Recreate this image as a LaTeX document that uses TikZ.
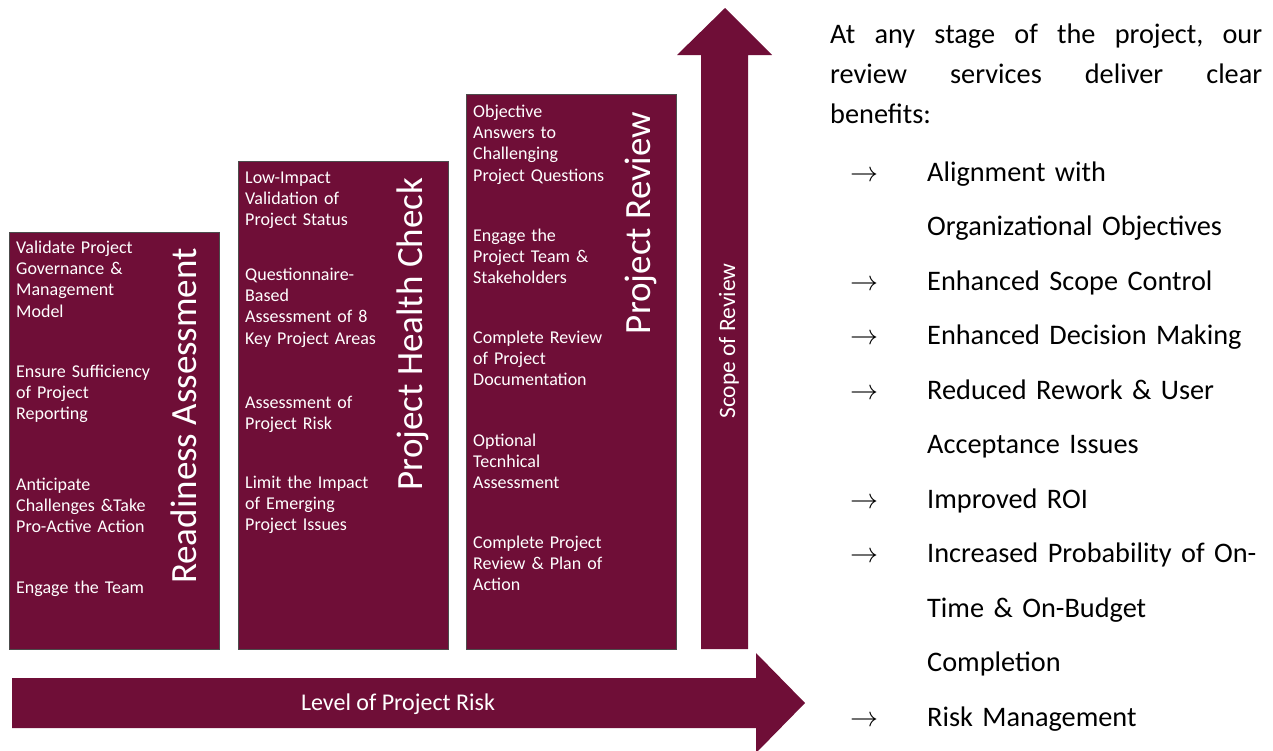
\RequirePackage{fix-cm}
\documentclass[tikz,border=0pt]{standalone}
\usepackage{fontspec}
\setmainfont{Carlito}
\usepackage{tikz}
\usetikzlibrary{positioning}
\definecolor{wine}{RGB}{111,14,55}

\begin{document}
\begin{tikzpicture}[x=1pt,y=-1pt,
	box/.style={rectangle, fill=wine, draw=black!70, line width=0.6pt, anchor=north west, inner sep=0pt, minimum width=210pt},
	item/.style={anchor=base west, inner sep=0pt, text=white, text width=200pt, align=left, font=\fontsize{18}{21.4}\selectfont},
	title/.style={rotate=90, inner sep=0pt, text=white, font=\fontsize{37}{40}\selectfont},
	info/.style={anchor=base west, inner sep=0pt, text width=340pt, align=left, font=\fontsize{28.3}{54.5}\selectfont},
	bul/.style={anchor=base west, inner sep=0pt, font=\fontsize{28}{34}\selectfont}]
	\clip (0,0) rectangle (1273,750);

	% the three stages
	\node (ra) [box, minimum height=417pt] at (9,232) {};
	\node (hc) [box, minimum height=488pt] at (238,161) {};
	\node (pr) [box, minimum height=555pt] at (466,94) {};

	\node (raT) [title] at (184,416) {Readiness Assessment};
	\node (hcT) [title] at (413,334) {Project Health Check};
	\node (prT) [title] at (641,223) {Project Review};

	\node (ra1) [item] at (16,253) {Validate Project\\Governance \&\\Management\\Model};
	\node (ra2) [item] at (16,377) {Ensure Sufficiency\\of Project\\Reporting};
	\node (ra3) [item] at (16,490) {Anticipate\\Challenges \&Take\\Pro-Active Action};
	\node (ra4) [item] at (16,593) {Engage the Team};

	\node (hc1) [item] at (245,183) {Low-Impact\\Validation of\\Project Status};
	\node (hc2) [item] at (245,280) {Questionnaire-\\Based\\Assessment of 8\\Key Project Areas};
	\node (hc3) [item] at (245,408) {Assessment of\\Project Risk};
	\node (hc4) [item] at (245,488) {Limit the Impact\\of Emerging\\Project Issues};

	\node (pr1) [item] at (473,117) {Objective\\Answers to\\Challenging\\Project Questions};
	\node (pr2) [item] at (473,241) {Engage the\\Project Team \&\\Stakeholders};
	\node (pr3) [item] at (473,343) {Complete Review\\of Project\\Documentation};
	\node (pr4) [item] at (473,446) {Optional\\Tecnhical\\Assessment};
	\node (pr5) [item] at (473,548) {Complete Project\\Review \& Plan of\\Action};

	% the two big arrows
	\fill[wine] (701,649) -- (701,55) -- (677,55) -- (725,8) -- (772,55) -- (748,55) -- (748,649) -- cycle;
	\fill[wine] (12,678) -- (756,678) -- (756,653) -- (805,703) -- (756,753) -- (756,728) -- (12,728) -- cycle;
	\node (scope) [title, font=\fontsize{23.5}{26}\selectfont] at (729,341) {Scope of Review};
	\node (risk) [text=white, font=\fontsize{24}{26}\selectfont] at (398,704) {Level of Project Risk};

	% benefits
	\node (intro) [anchor=base west, inner sep=0pt, text width=432pt, align=left, font=\fontsize{28.3}{40}\selectfont] at (830,43)
		{\makebox[432pt][s]{At\hfill any\hfill stage\hfill of\hfill the\hfill project,\hfill our}\\
		 \makebox[432pt][s]{review\hfill services\hfill deliver\hfill clear}\\
		 benefits:};

	\node (b1) [info] at (927,181) {Alignment with\\Organizational Objectives};
	\node (b2) [info] at (927,290) {Enhanced Scope Control};
	\node (b3) [info] at (927,344.5) {Enhanced Decision Making};
	\node (b4) [info] at (927,399) {Reduced Rework \& User\\Acceptance Issues};
	\node (b5) [info] at (927,508) {Improved ROI};
	\node (b6) [info] at (927,562.5) {Increased Probability of On-\\Time \& On-Budget\\Completion};
	\node (b7) [info] at (927,726) {Risk Management};

	\foreach \y in {181,290,344.5,399,508,562.5,726}
		\node [bul] at (850,\y) {$\rightarrow$};
\end{tikzpicture}
\end{document}
